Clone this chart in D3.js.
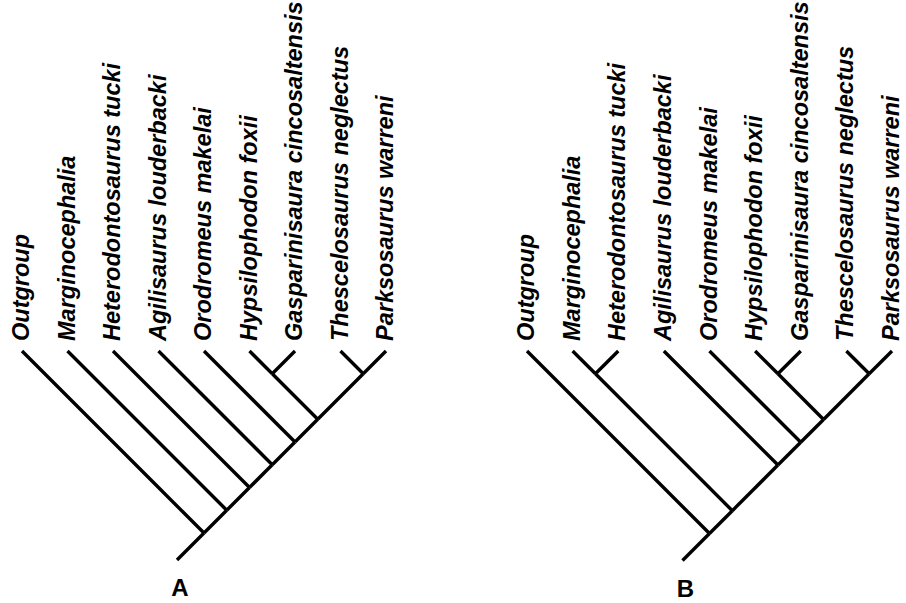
<!DOCTYPE html>
<html>
<head>
<meta charset="utf-8">
<script src="https://cdn.jsdelivr.net/npm/d3@7"></script>
<style>
  body { margin: 0; background: #fff; }
  svg { display: block; }
</style>
</head>
<body>
<div class="canvas"></div>
<script>
const svgWidth = 906;
const svgHeight = 603;

// Taxa, in tip order (same for both trees)
const taxa = [
    'Outgroup',
    'Marginocephalia',
    'Heterodontosaurus tucki',
    'Agilisaurus louderbacki',
    'Orodromeus makelai',
    'Hypsilophodon foxii',
    'Gasparinisaura cincosaltensis',
    'Thescelosaurus neglectus',
    'Parksosaurus warreni'
];

// Tree topologies as nested lists
const treeA = ['Outgroup', ['Marginocephalia', ['Heterodontosaurus tucki', ['Agilisaurus louderbacki',
    ['Orodromeus makelai', [['Hypsilophodon foxii', 'Gasparinisaura cincosaltensis'],
        ['Thescelosaurus neglectus', 'Parksosaurus warreni']]]]]]];

const treeB = ['Outgroup', [['Marginocephalia', 'Heterodontosaurus tucki'], ['Agilisaurus louderbacki',
    ['Orodromeus makelai', [['Hypsilophodon foxii', 'Gasparinisaura cincosaltensis'],
        ['Thescelosaurus neglectus', 'Parksosaurus warreni']]]]]];

const panelLabels = ['A', 'B'];

const svg = d3.select('.canvas')
    .append('svg')
        .attr('width', svgWidth)
        .attr('height', svgHeight);

const tipY = 351;
const stem = 27;
const font = 'Liberation Sans, Arial, sans-serif';

const drawTree = (tree, range, label) => {
    const x = d3.scalePoint().domain(taxa).range(range);
    const root = d3.hierarchy(tree, d => Array.isArray(d) ? d : null);

    // place nodes: diagonal cladogram, 45 degree branches
    root.eachAfter(n => {
        const tips = n.leaves().map(l => x(l.data));
        const xl = d3.min(tips), xr = d3.max(tips);
        n.px = (xl + xr) / 2;
        n.py = tipY + (xr - xl) / 2;
    });

    const g = svg.append('g');

    g.selectAll('line.branch')
        .data(root.descendants().filter(d => d.parent))
        .enter().append('line')
            .attr('class', 'branch')
            .attr('x1', d => d.px)
            .attr('y1', d => d.py)
            .attr('x2', d => d.parent.px)
            .attr('y2', d => d.parent.py)
            .attr('stroke', '#000')
            .attr('stroke-width', 3.4);

    // root stem
    g.append('line')
        .attr('x1', root.px)
        .attr('y1', root.py)
        .attr('x2', root.px - stem)
        .attr('y2', root.py + stem)
        .attr('stroke', '#000')
        .attr('stroke-width', 3.4);

    g.selectAll('text.taxon')
        .data(root.leaves())
        .enter().append('text')
            .attr('class', 'taxon')
            .attr('transform', d => `translate(${d.px + 7}, ${d.py - 10}) rotate(-90)`)
            .attr('font-family', font)
            .attr('font-size', 23.5)
            .attr('font-weight', 'bold')
            .attr('font-style', 'italic')
            .text(d => d.data);

    g.append('text')
        .attr('x', root.px - stem + 3)
        .attr('y', root.py + stem + 36)
        .attr('text-anchor', 'middle')
        .attr('font-family', font)
        .attr('font-size', 24)
        .attr('font-weight', 'bold')
        .text(label);
};

drawTree(treeA, [22, 386], panelLabels[0]);
drawTree(treeB, [527, 892], panelLabels[1]);
</script>
</body>
</html>
